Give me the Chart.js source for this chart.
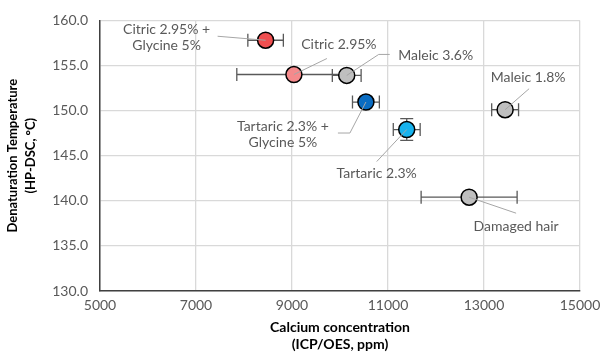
<!DOCTYPE html>
<html>
<head>
<meta charset="utf-8">
<script src="https://cdn.jsdelivr.net/npm/chart.js@4"></script>
<style>
  html, body { margin: 0; padding: 0; background: #fff; }
</style>
</head>
<body>
<canvas id="chart" width="601" height="355"></canvas>
<script>
// data
var sampleNames = [
    ['Citric 2.95% +', 'Glycine 5%'],
    ['Citric 2.95%'],
    ['Maleic 3.6%'],
    ['Tartaric 2.3% +', 'Glycine 5%'],
    ['Tartaric 2.3%'],
    ['Maleic 1.8%'],
    ['Damaged hair']
];
var calcium = [8450, 9040, 10140, 10540, 11390, 13440, 12690];
var temperature = [157.8, 154.0, 153.9, 150.95, 147.9, 150.1, 140.4];
var calciumErr = [370, 1190, 300, 280, 280, 280, 1000];
var temperatureErr = [0.4, 0, 0, 0, 1.2, 0, 0];
var xTicks = [5000, 7000, 9000, 11000, 13000, 15000];

// styling / layout, kept apart from the data
var fillColors = ['#f04f50', '#f58a8c', '#bfbfbf', '#0a6cc2', '#17b3ee', '#bfbfbf', '#bfbfbf'];
// label text centre and leader path, as pixel offsets from the point
var labelLayout = [
    { text: [-99, -11], leader: [[-48, -4]] },
    { text: [45, -30], leader: [[33, -16]] },
    { text: [89, -20], leader: [[32, -21], [43, -21]] },
    { text: [-83, 24], leader: [[-16, 31], [-28, 31]] },
    { text: [-30, 44], leader: [[-30, 32]] },
    { text: [23, -32], leader: [[24, -21]] },
    { text: [47, 29], leader: [[47, 16]] }
];

var FONT = 'Lato, "DejaVu Sans", sans-serif';

var points = calcium.map(function (x, i) {
    return { x: x, y: temperature[i] };
});

// error bars drawn through the chart scales
var errorBars = {
    id: 'errorBars',
    beforeDatasetsDraw: function (chart) {
        var ctx = chart.ctx;
        var xs = chart.scales.x, ys = chart.scales.y;
        var cap = 6.5;
        ctx.save();
        ctx.strokeStyle = '#595959';
        ctx.lineWidth = 1.3;
        for (var i = 0; i < calcium.length; i++) {
            var px = xs.getPixelForValue(calcium[i]);
            var py = ys.getPixelForValue(temperature[i]);
            if (calciumErr[i]) {
                var x1 = xs.getPixelForValue(calcium[i] - calciumErr[i]);
                var x2 = xs.getPixelForValue(calcium[i] + calciumErr[i]);
                ctx.beginPath();
                ctx.moveTo(x1, py); ctx.lineTo(x2, py);
                ctx.moveTo(x1, py - cap); ctx.lineTo(x1, py + cap);
                ctx.moveTo(x2, py - cap); ctx.lineTo(x2, py + cap);
                ctx.stroke();
            }
            if (temperatureErr[i]) {
                var y1 = ys.getPixelForValue(temperature[i] - temperatureErr[i]);
                var y2 = ys.getPixelForValue(temperature[i] + temperatureErr[i]);
                ctx.beginPath();
                ctx.moveTo(px, y1); ctx.lineTo(px, y2);
                ctx.moveTo(px - cap, y1); ctx.lineTo(px + cap, y1);
                ctx.moveTo(px - cap, y2); ctx.lineTo(px + cap, y2);
                ctx.stroke();
            }
        }
        ctx.restore();
    }
};

// data labels with leader lines
var pointLabels = {
    id: 'pointLabels',
    afterDatasetsDraw: function (chart) {
        var ctx = chart.ctx;
        var xs = chart.scales.x, ys = chart.scales.y;
        ctx.save();
        ctx.font = '14px ' + FONT;
        ctx.textAlign = 'center';
        ctx.textBaseline = 'middle';
        for (var i = 0; i < calcium.length; i++) {
            var px = xs.getPixelForValue(calcium[i]);
            var py = ys.getPixelForValue(temperature[i]);
            var lay = labelLayout[i];
            ctx.strokeStyle = '#a6a6a6';
            ctx.lineWidth = 1;
            ctx.beginPath();
            ctx.moveTo(px, py);
            lay.leader.forEach(function (p) { ctx.lineTo(px + p[0], py + p[1]); });
            ctx.stroke();
            ctx.fillStyle = '#595959';
            sampleNames[i].forEach(function (line, k) {
                ctx.fillText(line, px + lay.text[0], py + lay.text[1] + k * 16);
            });
        }
        ctx.restore();
    }
};

var ctxChart = document.getElementById('chart').getContext('2d');
var chart = new Chart(ctxChart, {
    type: 'scatter',
    data: {
        datasets: [{
            data: points,
            backgroundColor: fillColors,
            borderColor: '#000000',
            borderWidth: 1.5,
            pointRadius: 8,
            pointHoverRadius: 8
        }]
    },
    options: {
        responsive: false,
        animation: false,
        layout: { padding: { top: 20, right: 21, left: 0, bottom: 0 } },
        plugins: {
            legend: { display: false },
            tooltip: { enabled: false }
        },
        scales: {
            x: {
                type: 'linear',
                min: 5000,
                max: 15000,
                afterBuildTicks: function (scale) {
                    scale.ticks = xTicks.map(function (v) { return { value: v }; });
                },
                afterFit: function (scale) {
                    scale.height = 64;
                    scale.paddingLeft = 0;
                    scale.paddingRight = 0;
                },
                grid: { color: '#d9d9d9', lineWidth: 1.3, drawTicks: false },
                border: { color: '#404040', width: 1.5 },
                ticks: {
                    color: '#595959',
                    font: { family: FONT, size: 14 },
                    padding: 6,
                    maxRotation: 0,
                    callback: function (v) { return String(v); }
                },
                title: {
                    display: true,
                    text: ['Calcium concentration', '(ICP/OES, ppm)'],
                    color: '#000000',
                    font: { family: FONT, size: 14, weight: 'bold', lineHeight: 1.2 },
                    padding: { top: 4, bottom: 2 }
                }
            },
            y: {
                min: 130,
                max: 160,
                ticks: {
                    stepSize: 5,
                    color: '#595959',
                    font: { family: FONT, size: 14 },
                    padding: 12,
                    callback: function (v) { return v.toFixed(1); }
                },
                afterFit: function (scale) { scale.width = 100; },
                grid: { color: '#d9d9d9', lineWidth: 1.3, drawTicks: false },
                border: { color: '#404040', width: 1.5 },
                title: {
                    display: true,
                    text: ['Denaturation Temperature', '(HP-DSC, °C)'],
                    color: '#000000',
                    font: { family: FONT, size: 13, weight: 'bold', lineHeight: 1.35 },
                    padding: { top: 4, bottom: 0 }
                }
            }
        }
    },
    plugins: [errorBars, pointLabels]
});
</script>
</body>
</html>
